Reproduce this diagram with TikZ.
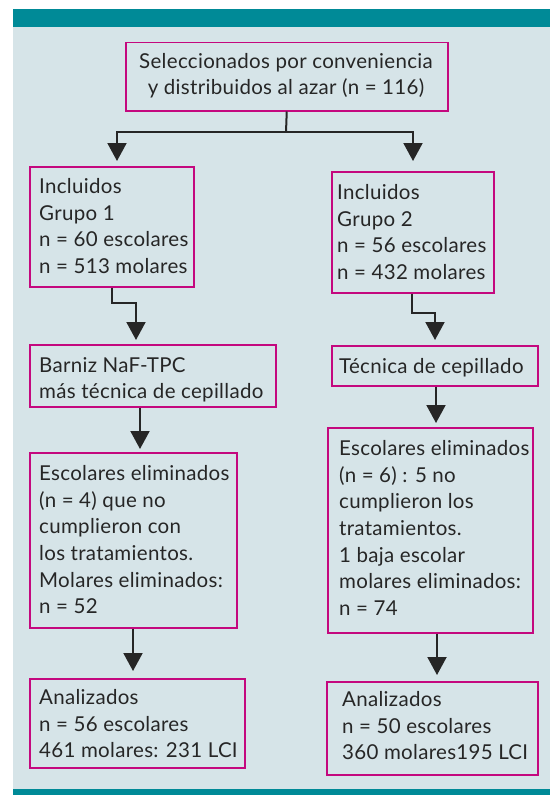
\documentclass[tikz,border=0pt]{standalone}
\usepackage{fontspec}
\setmainfont{Lato}[LetterSpace=1.5]
\usetikzlibrary{arrows.meta}
\definecolor{bgc}{HTML}{D6E4E8}
\definecolor{barteal}{HTML}{008A97}
\definecolor{mag}{HTML}{C4087E}
\definecolor{ink}{HTML}{262626}
\begin{document}
\begin{tikzpicture}[x=1bp,y=-1bp,
  box/.style={draw=mag, line width=1.5bp, inner sep=0, anchor=north west},
  txt/.style={inner sep=0, font=\fontsize{20.5bp}{26.7bp}\selectfont, text=ink, align=left, anchor=north west},
  arr/.style={draw=ink, line width=2bp, line join=miter, -{Triangle[width=19bp,length=18bp]}},
  ln/.style={draw=ink, line width=2bp}]
\useasboundingbox (0,0) rectangle (550,795);
\fill[bgc] (13.3,8.7) rectangle (550,795);
\fill[barteal] (13.3,8.7) rectangle (550,27);
\fill[barteal] (13.3,789) rectangle (550,795);
% boxes
\node[box, minimum width=322bp, minimum height=68bp] (top) at (125,42) {};
\node[box, minimum width=164bp, minimum height=120bp] (g1) at (29,166) {};
\node[box, minimum width=162bp, minimum height=121bp] (g2) at (331,171) {};
\node[box, minimum width=246bp, minimum height=62bp] (pb) at (29,344) {};
\node[box, minimum width=206bp, minimum height=40bp] (tec) at (331,345) {};
\node[box, minimum width=207bp, minimum height=175bp] (e1) at (29,452) {};
\node[box, minimum width=205bp, minimum height=205bp] (e2) at (327,427) {};
\node[box, minimum width=215bp, minimum height=89bp] (a1) at (29,678) {};
\node[box, minimum width=211bp, minimum height=93bp] (a2) at (326,681) {};
% texts
\node[txt, align=center, anchor=north] (topt) at (286,53) {Seleccionados por conveniencia\\y distribuidos al azar (n = 116)};
\node[txt] (g1t) at (39,178) {Incluidos\\Grupo 1\\n = 60 escolares\\n = 513 molares};
\node[txt] (g2t) at (337,184) {Incluidos\\Grupo 2\\n = 56 escolares\\n = 432 molares};
\node[txt] (pbt) at (39,357) {Barniz NaF-TPC\\más técnica de cepillado};
\node[txt] (tect) at (339,358) {Técnica de cepillado};
\node[txt] (e1t) at (39,465) {Escolares eliminados\\(n = 4) que no\\cumplieron con\\los tratamientos.\\Molares eliminados:\\n = 52};
\node[txt] (e2t) at (339,440) {Escolares eliminados\\(n = 6) : 5 no\\cumplieron los\\tratamientos.\\1 baja escolar\\molares eliminados:\\n = 74};
\node[txt] (a1t) at (39,689) {Analizados\\n = 56 escolares\\461 molares: 231 LCI};
\node[txt] (a2t) at (342,691) {Analizados\\n = 50 escolares\\360 molares195 LCI};
% connectors
\draw[ln] (top.south) -- (286,132) coordinate (split);
\draw[arr, shorten >=5bp] (split) -| (g1.north -| 117,0);
\draw[arr, shorten >=10bp] (split) -| (g2.north -| 413,0);
\draw[arr, shorten >=4bp] (g1.south -| 112,0) -- (112,303) -- (136,303) -- (pb.north -| 136,0);
\draw[arr, shorten >=5bp] (g2.south -| 412,0) -- (412,313) -- (435,313) -- (tec.north -| 435,0);
\draw[arr, shorten >=3bp] (pb.south -| 140,0) -- (e1.north -| 140,0);
\draw[arr, shorten >=4bp] (tec.south -| 436,0) -- (e2.north -| 436,0);
\draw[arr, shorten >=7bp] (e1.south -| 133,0) -- (a1.north -| 133,0);
\draw[arr, shorten >=6bp] (e2.south -| 437,0) -- (a2.north -| 437,0);
\end{tikzpicture}
\end{document}
